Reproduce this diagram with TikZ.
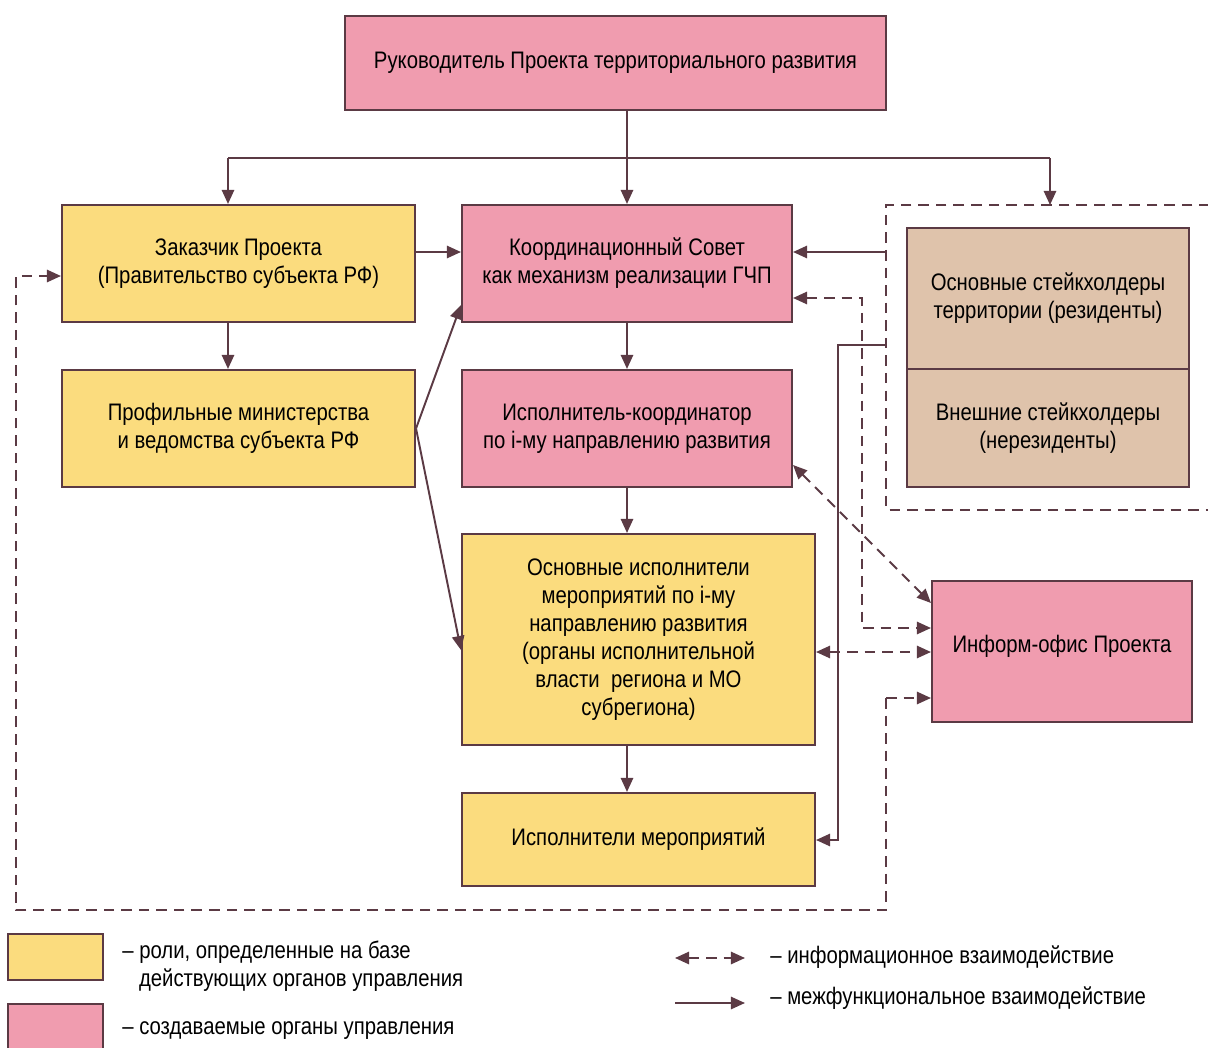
\documentclass[tikz,border=0pt]{standalone}
\usepackage{fontspec}
\setmainfont{Liberation Sans}[FakeStretch=0.85]
\usetikzlibrary{arrows.meta,calc}
\definecolor{yel}{HTML}{FBDC7E}
\definecolor{pnk}{HTML}{F09CAF}
\definecolor{tanc}{HTML}{DFC3AB}
\definecolor{brd}{HTML}{5B3A44}
\begin{document}
\begin{tikzpicture}[x=0.02cm,y=-0.02cm,
 box/.style={draw=brd, line width=1.2pt, align=center, font=\fontsize{13.6}{15.9}\selectfont, inner sep=0pt, text=black},
 ybox/.style={box, fill=yel}, pbox/.style={box, fill=pnk}, tbox/.style={box, fill=tanc},
 arr/.style={draw=brd, line width=1.1pt, -{Triangle[length=8pt,width=7pt]}},
 plain/.style={draw=brd, line width=1.1pt},
 dashln/.style={draw=brd, line width=1.1pt, dash pattern=on 6pt off 4pt},
 darr/.style={dashln, -{Triangle[length=8pt,width=7pt]}},
 ddarr/.style={dashln, {Triangle[length=8pt,width=7pt]}-{Triangle[length=8pt,width=7pt]}},
 lbl/.style={anchor=west, inner sep=0pt, font=\fontsize{13.6}{15.9}\selectfont, align=left}
]
\path[use as bounding box] (0,0) rectangle (1208,1048);
\clip (0,0) rectangle (1208,1048);

% boxes
\node[pbox, minimum width=10.82cm, minimum height=1.88cm] (top) at (615.5,63) {Руководитель Проекта территориального развития};
\node[ybox, minimum width=7.06cm, minimum height=2.34cm] (zak) at (238.5,263.5) {Заказчик Проекта\\(Правительство субъекта РФ)};
\node[pbox, minimum width=6.6cm, minimum height=2.34cm] (koord) at (627,263.5) {Координационный Совет\\как механизм реализации ГЧП};
\node[ybox, minimum width=7.06cm, minimum height=2.34cm] (prof) at (238.5,428.5) {Профильные министерства\\и ведомства субъекта РФ};
\node[pbox, minimum width=6.6cm, minimum height=2.34cm] (ispk) at (627,428.5) {Исполнитель-координатор\\по i-му направлению развития};
\node[ybox, minimum width=7.06cm, minimum height=4.22cm] (osn) at (638.5,639.5) {Основные исполнители\\мероприятий по i-му\\направлению развития\\(органы исполнительной\\власти\ \ региона и МО\\субрегиона)};
\node[ybox, minimum width=7.06cm, minimum height=1.86cm] (ispm) at (638.5,839.5) {Исполнители мероприятий};
\node[tbox, minimum width=5.64cm, minimum height=2.82cm] (sh1) at (1048,298.5) {Основные стейкхолдеры\\территории (резиденты)};
\node[tbox, minimum width=5.64cm, minimum height=2.36cm] (sh2) at (1048,428) {Внешние стейкхолдеры\\(нерезиденты)};
\node[pbox, minimum width=5.2cm, minimum height=2.82cm, text depth=0.3cm] (inf) at (1062,651.5) {Информ-офис Проекта};

% dashed stakeholder frame
\coordinate (fTL) at (886,205);
\coordinate (fBL) at (886,510);
\draw[dashln] (1210,205) -- (fTL) -- (fBL) -- (1210,510);

% top distribution
\coordinate (jL) at (228,158);
\coordinate (jR) at (1050,158);
\draw[arr] (top.south -| koord.north) -- (koord.north);
\draw[plain] (jL) -- (jR);
\draw[arr] (jL) -- (jL |- zak.north);
\draw[arr] (jR) -- (jR |- fTL);

% solid connectors
\draw[arr] (zak.east |- 0,252) -- (koord.west |- 0,252);
\draw[arr] (jL |- zak.south) -- (jL |- prof.north);
\draw[arr] (prof.east) -- (koord.south west |- 0,305);
\draw[arr] (prof.east) -- (osn.west |- 0,650);
\draw[arr] (koord.south) -- (ispk.north);
\draw[arr] (ispk.south) -- (ispk.south |- osn.north);
\draw[arr] (ispk.south |- osn.south) -- (ispk.south |- ispm.north);
\draw[arr] (fTL |- 0,252) -- (koord.east |- 0,252);
\draw[arr] (fTL |- 0,345) -- (838,345) -- (838,840) -- (ispm.east |- 0,840);

% dashed connectors
\draw[ddarr] (koord.east |- 0,298) -- (862,298) -- (862,628) -- (inf.west |- 0,628);
\draw[ddarr] (ispk.east |- 0,465) -- (inf.north west |- 0,603);
\draw[ddarr] (osn.east |- 0,652) -- (inf.west |- 0,652);
\draw[darr] (886,698) -- (inf.west |- 0,698);
\draw[darr] (886,698) -- (886,910) -- (16,910) -- (16,276) -- (zak.west |- 0,276);

% legend
\node[ybox, minimum width=1.9cm, minimum height=0.92cm] (ly) at (55.5,957) {};
\node[pbox, minimum width=1.9cm, minimum height=0.92cm] (lp) at (55.5,1027) {};
\node[lbl] (lyt) at (122,966) {– роли, определенные на базе\\\hspace*{9.5pt}действующих органов управления};
\node[lbl] (lpt) at (122,1031) {– создаваемые органы управления};
\coordinate (la1) at (675,958);
\coordinate (la2) at (745,958);
\coordinate (lb1) at (675,1003);
\coordinate (lb2) at (745,1003);
\draw[ddarr] (la1) -- (la2);
\draw[arr] (lb1) -- (lb2);
\node[lbl] (lat) at (770,957) {– информационное взаимодействие};
\node[lbl] (lbt) at (770,998) {– межфункциональное взаимодействие};
\end{tikzpicture}
\end{document}
